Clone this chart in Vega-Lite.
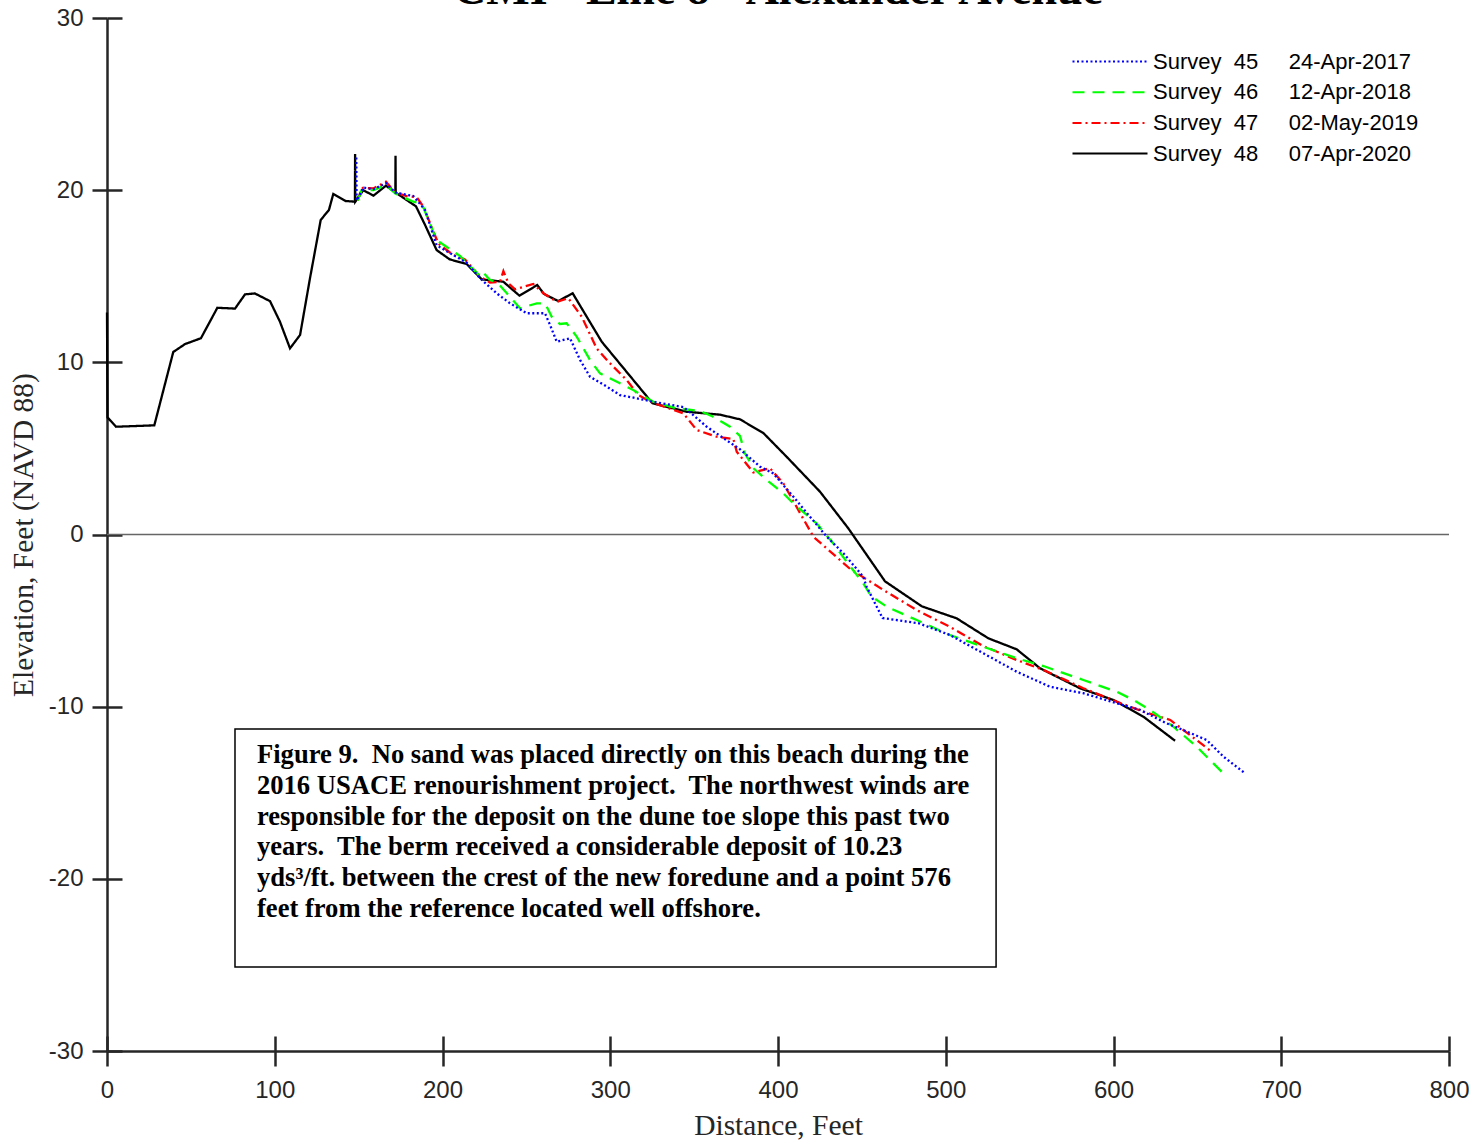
{
  "$schema": "https://vega.github.io/schema/vega-lite/v6.json",
  "width": 1342,
  "height": 1033,
  "autosize": "none",
  "padding": {"left": 107, "top": 18, "right": 28, "bottom": 91},
  "background": "white",
  "title": {"text": "CMI - Line 8 - Alexander Avenue", "font": "Liberation Serif", "fontSize": 46, "fontWeight": "bold", "color": "black", "anchor": "middle", "baseline": "alphabetic", "offset": -44},
  "datasets": {
    "profiles": [
      {"s":"48","x":0,"y":12.9},{"s":"48","x":0.3,"y":6.8},{"s":"48","x":5.4,"y":6.26},{"s":"48","x":28.2,"y":6.34},{"s":"48","x":39.5,"y":10.6},{"s":"48","x":46.5,"y":11.06},{"s":"48","x":56,"y":11.4},{"s":"48","x":65.8,"y":13.17},{"s":"48","x":76.3,"y":13.12},{"s":"48","x":82.3,"y":13.95},{"s":"48","x":88.2,"y":14.0},{"s":"48","x":97.2,"y":13.55},{"s":"48","x":103.1,"y":12.36},{"s":"48","x":109.1,"y":10.81},{"s":"48","x":115.1,"y":11.59},{"s":"48","x":121,"y":14.88},{"s":"48","x":127.4,"y":18.27},{"s":"48","x":132.3,"y":18.85},{"s":"48","x":134.9,"y":19.78},{"s":"48","x":142.3,"y":19.37},{"s":"48","x":147.8,"y":19.33},{"s":"48","x":147.9,"y":22.1},{"s":"48","x":148.0,"y":19.33},{"s":"48","x":152.8,"y":20.0},{"s":"48","x":158.8,"y":19.68},{"s":"48","x":166.3,"y":20.26},{"s":"48","x":171.9,"y":19.86},{"s":"48","x":172.0,"y":22.0},{"s":"48","x":172.1,"y":19.86},{"s":"48","x":184.2,"y":19.06},{"s":"48","x":189.6,"y":17.98},{"s":"48","x":196.5,"y":16.52},{"s":"48","x":204.3,"y":15.98},{"s":"48","x":214.4,"y":15.71},{"s":"48","x":223.4,"y":14.82},{"s":"48","x":236.3,"y":14.68},{"s":"48","x":245.9,"y":13.87},{"s":"48","x":256.5,"y":14.49},{"s":"48","x":260.5,"y":13.97},{"s":"48","x":269,"y":13.56},{"s":"48","x":277.6,"y":14.01},{"s":"48","x":294.9,"y":11.2},{"s":"48","x":325.2,"y":7.62},{"s":"48","x":345.6,"y":7.13},{"s":"48","x":365.4,"y":6.96},{"s":"48","x":377.3,"y":6.69},{"s":"48","x":391.2,"y":5.9},{"s":"48","x":405.1,"y":4.52},{"s":"48","x":425,"y":2.49},{"s":"48","x":441.9,"y":0.36},{"s":"48","x":463.8,"y":-2.72},{"s":"48","x":485.7,"y":-4.17},{"s":"48","x":506.5,"y":-4.87},{"s":"48","x":525.4,"y":-6.03},{"s":"48","x":542.3,"y":-6.67},{"s":"48","x":556.2,"y":-7.77},{"s":"48","x":580,"y":-8.93},{"s":"48","x":599.9,"y":-9.61},{"s":"48","x":617.8,"y":-10.58},{"s":"48","x":636.7,"y":-11.98},
      {"s":"47","x":149.5,"y":19.4},{"s":"47","x":151.8,"y":20.1},{"s":"47","x":152.8,"y":20.14},{"s":"47","x":158.8,"y":20.1},{"s":"47","x":166.3,"y":20.49},{"s":"47","x":171.9,"y":19.86},{"s":"47","x":178.6,"y":19.66},{"s":"47","x":184.6,"y":19.6},{"s":"47","x":188.6,"y":19.04},{"s":"47","x":197.5,"y":16.9},{"s":"47","x":206.4,"y":16.23},{"s":"47","x":213.4,"y":15.98},{"s":"47","x":222.4,"y":14.98},{"s":"47","x":228.3,"y":14.63},{"s":"47","x":234.3,"y":14.68},{"s":"47","x":236.3,"y":15.3},{"s":"47","x":239.3,"y":14.59},{"s":"47","x":243.3,"y":14.24},{"s":"47","x":254.1,"y":14.55},{"s":"47","x":260.1,"y":14.01},{"s":"47","x":268.1,"y":13.52},{"s":"47","x":275,"y":13.72},{"s":"47","x":283,"y":12.65},{"s":"47","x":291.9,"y":10.81},{"s":"47","x":298.9,"y":10.04},{"s":"47","x":309.8,"y":8.97},{"s":"47","x":316.7,"y":8.1},{"s":"47","x":324.2,"y":7.7},{"s":"47","x":343.6,"y":7.04},{"s":"47","x":351.5,"y":6.07},{"s":"47","x":363.4,"y":5.68},{"s":"47","x":373.4,"y":5.55},{"s":"47","x":375.4,"y":4.81},{"s":"47","x":385.3,"y":3.6},{"s":"47","x":395.2,"y":3.85},{"s":"47","x":403.2,"y":2.97},{"s":"47","x":421.1,"y":-0.13},{"s":"47","x":443,"y":-2.0},{"s":"47","x":462.8,"y":-3.22},{"s":"47","x":482.7,"y":-4.39},{"s":"47","x":502.5,"y":-5.36},{"s":"47","x":522.4,"y":-6.48},{"s":"47","x":542.3,"y":-7.29},{"s":"47","x":558.2,"y":-7.87},{"s":"47","x":582,"y":-8.93},{"s":"47","x":601.9,"y":-9.71},{"s":"47","x":617.8,"y":-10.29},{"s":"47","x":633.8,"y":-10.77},{"s":"47","x":641.7,"y":-11.36},{"s":"47","x":658.5,"y":-12.61},
      {"s":"46","x":149.5,"y":19.4},{"s":"46","x":151.8,"y":20.0},{"s":"46","x":158.8,"y":20.0},{"s":"46","x":166.3,"y":20.3},{"s":"46","x":171.9,"y":19.8},{"s":"46","x":182.6,"y":19.33},{"s":"46","x":187.6,"y":19.24},{"s":"46","x":196.5,"y":17.1},{"s":"46","x":210.4,"y":16.18},{"s":"46","x":222.4,"y":15.01},{"s":"46","x":224.4,"y":15.21},{"s":"46","x":227.9,"y":14.82},{"s":"46","x":233,"y":14.6},{"s":"46","x":240.2,"y":13.81},{"s":"46","x":246.2,"y":13.14},{"s":"46","x":256.2,"y":13.43},{"s":"46","x":261.1,"y":13.43},{"s":"46","x":265.1,"y":12.65},{"s":"46","x":270,"y":12.23},{"s":"46","x":274,"y":12.27},{"s":"46","x":280,"y":11.49},{"s":"46","x":287.9,"y":10.14},{"s":"46","x":293.9,"y":9.36},{"s":"46","x":305.8,"y":8.78},{"s":"46","x":313.7,"y":8.39},{"s":"46","x":325.7,"y":7.71},{"s":"46","x":339.6,"y":7.33},{"s":"46","x":353.5,"y":7.18},{"s":"46","x":361.4,"y":6.84},{"s":"46","x":371.4,"y":6.26},{"s":"46","x":377.3,"y":5.73},{"s":"46","x":380.3,"y":4.72},{"s":"46","x":385.3,"y":3.85},{"s":"46","x":393.2,"y":3.17},{"s":"46","x":403.2,"y":2.39},{"s":"46","x":409.1,"y":1.81},{"s":"46","x":423,"y":0.65},{"s":"46","x":432.9,"y":-0.51},{"s":"46","x":440.9,"y":-1.58},{"s":"46","x":450.8,"y":-2.83},{"s":"46","x":455.8,"y":-3.61},{"s":"46","x":464.8,"y":-4.19},{"s":"46","x":482.7,"y":-4.97},{"s":"46","x":502.5,"y":-5.84},{"s":"46","x":522.4,"y":-6.52},{"s":"46","x":542.3,"y":-7.19},{"s":"46","x":558.2,"y":-7.64},{"s":"46","x":582,"y":-8.45},{"s":"46","x":601.9,"y":-9.13},{"s":"46","x":611.8,"y":-9.61},{"s":"46","x":621.8,"y":-10.19},{"s":"46","x":635.7,"y":-11.16},{"s":"46","x":649.6,"y":-12.32},{"s":"46","x":657.5,"y":-13.1},{"s":"46","x":664.5,"y":-13.78},
      {"s":"45","x":148.6,"y":21.9},{"s":"45","x":148.8,"y":19.4},{"s":"45","x":152.8,"y":20.15},{"s":"45","x":158.8,"y":20.05},{"s":"45","x":166.3,"y":20.4},{"s":"45","x":171.9,"y":19.86},{"s":"45","x":182.6,"y":19.66},{"s":"45","x":189.6,"y":18.85},{"s":"45","x":196.5,"y":16.8},{"s":"45","x":206.4,"y":16.23},{"s":"45","x":214.4,"y":15.79},{"s":"45","x":222.4,"y":14.88},{"s":"45","x":232.3,"y":14.01},{"s":"45","x":240.2,"y":13.43},{"s":"45","x":250.2,"y":12.85},{"s":"45","x":261.1,"y":12.85},{"s":"45","x":264.1,"y":12.17},{"s":"45","x":268.1,"y":11.2},{"s":"45","x":276,"y":11.4},{"s":"45","x":282,"y":10.14},{"s":"45","x":287.9,"y":9.17},{"s":"45","x":297.9,"y":8.59},{"s":"45","x":305.8,"y":8.1},{"s":"45","x":315.8,"y":7.91},{"s":"45","x":325.7,"y":7.71},{"s":"45","x":343.6,"y":7.4},{"s":"45","x":349.5,"y":6.94},{"s":"45","x":357.5,"y":6.26},{"s":"45","x":367.4,"y":5.6},{"s":"45","x":377.3,"y":4.95},{"s":"45","x":389.3,"y":3.94},{"s":"45","x":397.2,"y":3.55},{"s":"45","x":409.1,"y":2.2},{"s":"45","x":419.1,"y":1.03},{"s":"45","x":429.1,"y":-0.13},{"s":"45","x":439,"y":-1.09},{"s":"45","x":450.8,"y":-2.45},{"s":"45","x":452.8,"y":-3.03},{"s":"45","x":462.3,"y":-4.85},{"s":"45","x":484,"y":-5.16},{"s":"45","x":502.5,"y":-5.84},{"s":"45","x":522.4,"y":-6.9},{"s":"45","x":542.3,"y":-7.97},{"s":"45","x":562.1,"y":-8.84},{"s":"45","x":582,"y":-9.22},{"s":"45","x":601.9,"y":-9.8},{"s":"45","x":615.8,"y":-10.19},{"s":"45","x":631.7,"y":-10.97},{"s":"45","x":641.7,"y":-11.36},{"s":"45","x":655.6,"y":-11.94},{"s":"45","x":665.6,"y":-12.91},{"s":"45","x":678.4,"y":-13.87}
    ]
  },
  "resolve": {"axis": {"x": "independent", "y": "independent"}},
  "layer": [
    {
      "data": {"values": [{"z": 0}]},
      "mark": {"type": "rule", "color": "#666666", "strokeWidth": 1.5},
      "encoding": {
        "y": {"field": "z", "type": "quantitative", "scale": {"domain": [-30, 30]},
          "axis": {"orient": "left", "offset": -15, "tickSize": 15, "domain": false, "labels": false, "title": null, "grid": false, "values": [-30,-20,-10,0,10,20,30], "tickColor": "#262626", "tickWidth": 2.5}}
      }
    },
    {
      "data": {"values": [{"z": 0}]},
      "mark": {"type": "point", "opacity": 0},
      "encoding": {
        "x": {"field": "z", "type": "quantitative", "scale": {"domain": [0, 800]},
          "axis": {"orient": "bottom", "offset": -15, "tickSize": 15, "domain": false, "labels": false, "title": null, "grid": false, "values": [0,100,200,300,400,500,600,700,800], "tickColor": "#262626", "tickWidth": 2.5}}
      }
    },
    {
      "data": {"values": [{"z": 0}]},
      "mark": {"type": "rect", "fill": null, "stroke": "black", "strokeWidth": 1.5},
      "encoding": {
        "x": {"datum": 76.3, "type": "quantitative", "axis": null},
        "x2": {"datum": 530},
        "y": {"datum": -11.3, "type": "quantitative", "axis": null},
        "y2": {"datum": -25.12}
      }
    },
    {
      "data": {"values": [{"z": 0}]},
      "mark": {"type": "text", "align": "left", "baseline": "alphabetic", "font": "Liberation Serif", "fontWeight": "bold", "fontSize": 26.6, "lineHeight": 30.8, "color": "black",
        "text": ["Figure 9.\u00a0 No sand was placed directly on this beach during the", "2016 USACE renourishment project.\u00a0 The northwest winds are", "responsible for the deposit on the dune toe slope this past two", "years.\u00a0 The berm received a considerable deposit of 10.23", "yds\u00b3/ft. between the crest of the new foredune and a point 576", "feet from the reference located well offshore."]},
      "encoding": {
        "x": {"datum": 89.4, "type": "quantitative", "axis": null},
        "y": {"datum": -13.27, "type": "quantitative", "axis": null}
      }
    },
    {
      "data": {"name": "profiles"},
      "mark": {"type": "line", "strokeWidth": 2.3, "clip": false},
      "encoding": {
        "x": {"field": "x", "type": "quantitative", "scale": {"domain": [0, 800], "nice": false},
          "axis": {"orient": "bottom", "title": "Distance, Feet", "values": [0,100,200,300,400,500,600,700,800], "grid": false, "tickSize": 15, "labelPadding": 12, "titlePadding": 9, "labelExpr": "toString(datum.value)"}},
        "y": {"field": "y", "type": "quantitative", "scale": {"domain": [-30, 30], "nice": false},
          "axis": {"orient": "left", "title": "Elevation, Feet (NAVD 88)", "values": [-30,-20,-10,0,10,20,30], "grid": false, "tickSize": 15, "labelPadding": 9, "titlePadding": 10, "labelExpr": "toString(datum.value)"}},
        "color": {"field": "s", "type": "nominal",
          "scale": {"domain": ["45","46","47","48"], "range": ["#0000ff","#00ff00","#ff0000","#000000"]},
          "legend": {"orient": "none", "legendX": 992, "legendY": 32.5, "title": null, "symbolType": "M-5,0H5", "symbolSize": 225, "symbolStrokeWidth": 2, "labelFont": "Liberation Sans", "labelFontSize": 22, "labelColor": "black", "labelOffset": 32, "labelLimit": 500, "padding": 0, "rowPadding": 8.7,
            "labelExpr": "datum.label == '45' ? 'Survey\u00a0\u00a045\u00a0\u00a0\u00a0\u00a0\u00a024-Apr-2017' : datum.label == '46' ? 'Survey\u00a0\u00a046\u00a0\u00a0\u00a0\u00a0\u00a012-Apr-2018' : datum.label == '47' ? 'Survey\u00a0\u00a047\u00a0\u00a0\u00a0\u00a0\u00a002-May-2019' : 'Survey\u00a0\u00a048\u00a0\u00a0\u00a0\u00a0\u00a007-Apr-2020'"}},
        "strokeDash": {"field": "s", "type": "nominal",
          "scale": {"domain": ["45","46","47","48"], "range": [[2,2.5],[12,8],[9,4,2,4],[1,0]]},
          "legend": {"orient": "none", "legendX": 992, "legendY": 32.5, "title": null, "symbolType": "M-5,0H5", "symbolSize": 225, "symbolStrokeWidth": 2, "labelFont": "Liberation Sans", "labelFontSize": 22, "labelColor": "black", "labelOffset": 32, "labelLimit": 500, "padding": 0, "rowPadding": 8.7,
            "labelExpr": "datum.label == '45' ? 'Survey\u00a0\u00a045\u00a0\u00a0\u00a0\u00a0\u00a024-Apr-2017' : datum.label == '46' ? 'Survey\u00a0\u00a046\u00a0\u00a0\u00a0\u00a0\u00a012-Apr-2018' : datum.label == '47' ? 'Survey\u00a0\u00a047\u00a0\u00a0\u00a0\u00a0\u00a002-May-2019' : 'Survey\u00a0\u00a048\u00a0\u00a0\u00a0\u00a0\u00a007-Apr-2020'"}}
      }
    }
  ],
  "config": {
    "view": {"stroke": null},
    "axis": {"domainColor": "#262626", "domainWidth": 2.5, "tickColor": "#262626", "tickWidth": 2.5, "labelFont": "Liberation Sans", "labelFontSize": 24, "labelColor": "#262626", "titleFont": "Liberation Serif", "titleFontSize": 29.5, "titleFontWeight": "normal", "titleColor": "#262626", "labelFlush": false, "labelOverlap": false}
  }
}
